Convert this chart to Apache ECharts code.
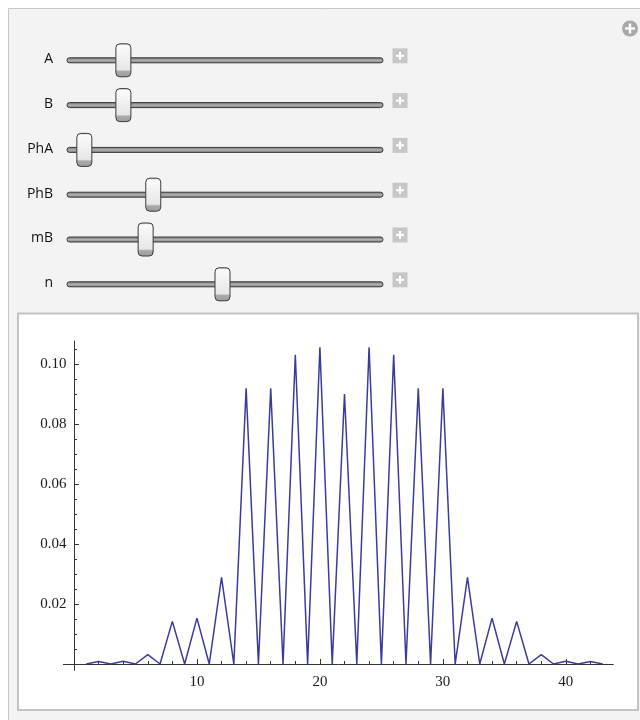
<!DOCTYPE html>
<html>
<head>
<meta charset="utf-8">
<script src="https://cdn.jsdelivr.net/npm/echarts@6/dist/echarts.min.js"></script>
<style>html,body{margin:0;padding:0;background:#fff}#c{width:640px;height:720px}</style>
</head>
<body>
<div id="c"></div>
<script>
// ---- data ----
const xValues = [1,2,3,4,5,6,7,8,9,10,11,12,13,14,15,16,17,18,19,20,21,22,23,24,25,26,27,28,29,30,31,32,33,34,35,36,37,38,39,40,41,42,43];
const yValues = [0,0.0008,0,0.0009,0,0.0031,0,0.0142,0,0.0153,0,0.0289,0,0.0919,0,0.0919,0,0.1031,0,0.1056,0,0.0900,0,0.1056,0,0.1031,0,0.0919,0,0.0919,0,0.0289,0,0.0153,0,0.0142,0,0.0031,0,0.0009,0,0.0008,0];
const xMajorTicks = [10,20,30,40];
const xMinorTicks = [2,4,6,8,12,14,16,18,22,24,26,28,32,34,36,38,42];
const yMajorTicks = [0.02,0.04,0.06,0.08,0.10];
const yMinorTicks = [0.005,0.01,0.015,0.025,0.03,0.035,0.045,0.05,0.055,0.065,0.07,0.075,0.085,0.09,0.095,0.105];
const sliderLabels = ['A','B','PhA','PhB','mB','n'];
const sliderValues = [0.175,0.175,0.047,0.273,0.248,0.5]; // fraction of slider

// ---- UI graphics (Manipulate panel) ----
const els = [];
els.push({type:'rect', z:-20, shape:{x:8.5,y:8.5,width:640,height:720}, style:{fill:'#f3f3f3', stroke:'#c6c6c6', lineWidth:1}});
els.push({type:'rect', z:-10, shape:{x:18,y:313.5,width:620,height:396.5}, style:{fill:'#ffffff', stroke:'#c4c4c4', lineWidth:2}});
// top-right circle plus
els.push({type:'circle', shape:{cx:630,cy:28.5,r:8}, style:{fill:'#a9a9a9'}});
els.push({type:'rect', shape:{x:625,y:27.3,width:10,height:2.4}, style:{fill:'#fff'}});
els.push({type:'rect', shape:{x:628.8,y:23.5,width:2.4,height:10}, style:{fill:'#fff'}});

const trackX0 = 67, trackX1 = 383;
sliderLabels.forEach((lab, i) => {
  const cy = 60.3 + i * 44.8;
  els.push({type:'text', style:{text:lab, x:53, y:cy-1, align:'right', verticalAlign:'middle', font:'14px "Open Sans"', fill:'#111'}});
  els.push({type:'rect', shape:{x:trackX0,y:cy-2.5,width:trackX1-trackX0,height:5,r:2.5},
    style:{fill:new echarts.graphic.LinearGradient(0,0,0,1,[{offset:0,color:'#6a6a6a'},{offset:0.5,color:'#b0b0b0'},{offset:1,color:'#7a7a7a'}]), stroke:'#3a3a3a', lineWidth:1}});
  const tx = 70 + sliderValues[i] * (trackX1 - 70 - 8);
  els.push({type:'rect', shape:{x:tx-8+0.5,y:cy-16.5,width:15,height:33,r:4},
    style:{fill:new echarts.graphic.LinearGradient(0,0,0,1,[{offset:0,color:'#bdbdbd'},{offset:0.07,color:'#fbfbfb'},{offset:0.78,color:'#e6e6e6'},{offset:0.83,color:'#a9a9a9'},{offset:1,color:'#9c9c9c'}]), stroke:'#3c3c3c', lineWidth:1}});
  // plus button
  els.push({type:'rect', shape:{x:392.5,y:cy-12,width:15,height:15}, style:{fill:'#c7c7c7'}});
  els.push({type:'rect', shape:{x:396,y:cy-5.6,width:8,height:2.2}, style:{fill:'#fff'}});
  els.push({type:'rect', shape:{x:398.9,y:cy-8.5,width:2.2,height:8}, style:{fill:'#fff'}});
});

const serif = '"Liberation Serif", "Times New Roman", serif';
const axisColor = '#333';

const chart = echarts.init(document.getElementById('c'), null, {renderer:'canvas'});
chart.setOption({
  backgroundColor:'#ffffff',
  animation:false,
  graphic:{elements:els},
  grid:{left:63.4, right:26.7, top:341, bottom:49.7, containLabel:false, outerBoundsMode:'none'},
  xAxis:[
    {type:'value', min:-0.86, max:43.86, position:'bottom',
     axisLine:{show:true, onZero:true, onZeroAxisIndex:0, lineStyle:{color:axisColor, width:1}},
     axisTick:{show:true, inside:true, length:5, customValues:xMajorTicks, lineStyle:{color:axisColor}},
     axisLabel:{show:true, customValues:xMajorTicks, margin:4, fontFamily:serif, fontSize:15, color:'#1a1a1a'},
     splitLine:{show:false}},
    {type:'value', min:-0.86, max:43.86, position:'bottom',
     axisLine:{show:false, onZero:true, onZeroAxisIndex:0},
     axisTick:{show:true, inside:true, length:3, customValues:xMinorTicks, lineStyle:{color:axisColor}},
     axisLabel:{show:false}, splitLine:{show:false}}
  ],
  yAxis:[
    {type:'value', min:-0.0021, max:0.1077, position:'left',
     axisLine:{show:true, onZero:true, onZeroAxisIndex:0, lineStyle:{color:axisColor, width:1}},
     axisTick:{show:true, inside:true, length:5, customValues:yMajorTicks, lineStyle:{color:axisColor}},
     axisLabel:{show:true, customValues:yMajorTicks, margin:-3, fontFamily:serif, fontSize:15, color:'#1a1a1a',
       formatter:v => v.toFixed(2)},
     splitLine:{show:false}},
    {type:'value', min:-0.0021, max:0.1077, position:'left',
     axisLine:{show:false, onZero:true, onZeroAxisIndex:0},
     axisTick:{show:true, inside:true, length:3, customValues:yMinorTicks, lineStyle:{color:axisColor}},
     axisLabel:{show:false}, splitLine:{show:false}}
  ],
  series:[{
    type:'line', xAxisIndex:0, yAxisIndex:0,
    data:xValues.map((x,i)=>[x,yValues[i]]),
    showSymbol:false, symbol:'none',
    lineStyle:{color:'#3b3b9c', width:1.5},
    z:3
  }]
});
</script>
</body>
</html>
